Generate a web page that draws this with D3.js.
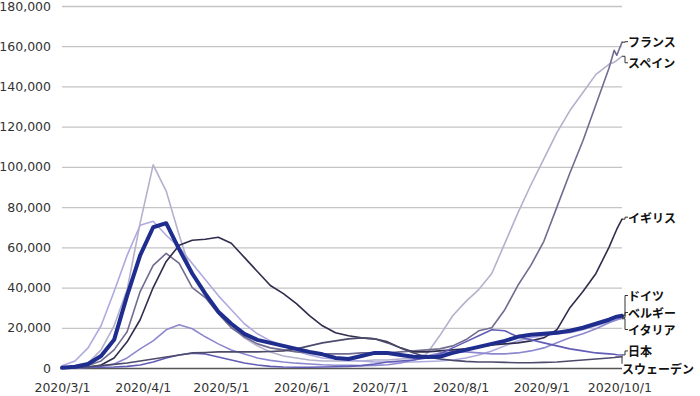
<!DOCTYPE html>
<html><head><meta charset="utf-8">
<script src="https://cdn.jsdelivr.net/npm/d3@7"></script>
<style>body{margin:0;background:#fff}svg{display:block}</style>
</head><body>
<svg id="c" width="700" height="396"></svg>
<script>
const dates = ["2020-03-01","2020-03-06","2020-03-11","2020-03-16","2020-03-21","2020-03-26","2020-03-31","2020-04-05","2020-04-10","2020-04-15","2020-04-20","2020-04-25","2020-04-30","2020-05-05","2020-05-10","2020-05-15","2020-05-20","2020-05-25","2020-05-30","2020-06-04","2020-06-09","2020-06-14","2020-06-19","2020-06-24","2020-06-29","2020-07-04","2020-07-09","2020-07-14","2020-07-19","2020-07-24","2020-07-29","2020-08-03","2020-08-08","2020-08-13","2020-08-18","2020-08-23","2020-08-28","2020-09-02","2020-09-07","2020-09-12","2020-09-17","2020-09-22","2020-09-27","2020-09-29","2020-09-30","2020-10-02"];
const france  = [100,300,1200,3500,9000,18000,38000,51000,57000,52000,40000,35000,27000,20000,15500,12000,10000,9000,8000,7500,7000,7000,7000,7500,7500,7500,8000,8500,9000,9500,11000,14000,18500,20000,29000,41000,51000,63000,80000,97000,113000,131000,149000,158000,155500,162000];
const spain   = [100,400,2500,9000,21000,39000,72000,101000,88000,66000,46000,37000,28000,21000,15000,11000,8000,6000,5000,4000,3500,3500,3500,3500,4000,4000,4500,5000,7000,16000,26000,33000,39000,47000,62000,77000,91000,104000,117000,128000,137000,146000,151000,152000,153000,155000];
const uk      = [0,50,300,1500,5000,13000,24000,40000,53000,61000,63500,64000,65000,62000,55000,48000,41000,37000,32000,26000,21000,17500,16000,15000,14500,13000,10000,8000,8000,8500,9000,9500,10500,11500,12000,12500,13500,15000,19000,30000,38000,47000,60000,66000,69000,74000];
const germany = [100,600,2000,6000,14000,36000,56000,70000,72000,59000,47000,37000,28000,22000,17000,14000,12500,11000,9500,8000,6800,5000,4500,6000,7500,7500,6500,5600,5500,5600,7500,9000,10500,12000,13500,15500,16500,17000,17500,18500,20000,22000,24000,25000,25500,26000];
const belgium = [0,50,300,900,2000,5000,9500,13500,19000,21500,19500,15500,12000,9000,7000,5000,3800,3000,2400,2000,1600,1400,1300,1200,1300,1600,2500,4000,6000,7500,8000,8000,7500,7000,7000,7500,8500,10000,12500,15000,17000,19500,22500,23500,24000,25000];
const italy   = [1100,3500,10000,21000,38000,56000,71000,73000,66000,60000,52000,44000,36000,29000,22000,17000,13500,11000,8500,6500,5000,4500,4000,3500,3000,3000,3000,3000,3200,3500,4000,5000,6500,8500,11000,13500,15000,16000,17000,17500,19000,21000,23000,23500,24000,24500];
const japan   = [200,300,400,400,500,800,1500,3000,5000,6500,7400,7000,5500,4000,2500,1500,800,500,400,400,500,600,800,1200,2000,3000,3500,4000,5000,7000,10000,13000,16000,19000,18500,15500,14000,12500,11000,9500,8500,7500,7000,6800,6600,6500];
const sweden  = [0,100,600,1200,1800,2500,3500,4500,5500,6500,7500,7700,8000,8000,8000,8000,8200,8500,9500,11000,12500,13500,14500,15000,14500,12500,10000,7500,5500,4500,3800,3300,3000,3000,2800,2600,2600,2800,3000,3500,4000,4500,5000,5200,5400,5600];
const seriesNames = ["フランス","スペイン","イギリス","ドイツ","ベルギー","イタリア","日本","スウェーデン"];
const yTicks = [0,20000,40000,60000,80000,100000,120000,140000,160000,180000];
const xTickLabels = ["2020-03-01","2020-04-01","2020-05-01","2020-06-01","2020-07-01","2020-08-01","2020-09-01","2020-10-01"];

const seriesValues = [france, spain, uk, germany, belgium, italy, japan, sweden];
const colors = ["#6f6c8f","#b3b1cb","#2f2c4c","#1f2d8f","#8c88cf","#aeaae0","#615cb6","#4d4b6b"];
const widths = [1.6,1.6,1.6,4,1.6,1.6,1.6,1.6];
const drawOrder = [1,5,0,2,4,6,7,3];
const labelNudge = [-0.5,6.5,-2,-20.2,-5.2,10.8,-4,12];
const labelDx = [0,0,0,0,0,0,0,-6];

const parse = d3.timeParse("%Y-%m-%d");
const dts = dates.map(parse);
const svg = d3.select("#c");
const L = 62, R = 622, T = 6, B = 368;
const x = d3.scaleTime().domain([dts[0], dts[dts.length-1]]).range([L, R]);
const y = d3.scaleLinear().domain([0,180000]).range([B, T]);

const ya = svg.append("g").attr("transform",`translate(${L},0)`)
  .call(d3.axisLeft(y).tickValues(yTicks).tickFormat(d3.format(",")).tickSize(-(R-L)).tickPadding(11));
ya.select(".domain").remove();
ya.selectAll(".tick line").attr("stroke", d => d===0 ? "#555" : "#c4c4c4").attr("stroke-width",1.3);
ya.selectAll(".tick text").attr("font-family","'DejaVu Sans', Verdana, sans-serif").attr("font-size","12.5px").attr("fill","#333");

const xa = svg.append("g").attr("transform",`translate(0,${B})`)
  .call(d3.axisBottom(x).tickValues(xTickLabels.map(parse)).tickFormat(d3.timeFormat("%Y/%-m/%-d")).tickSize(0).tickPadding(15));
xa.select(".domain").remove();
xa.selectAll(".tick text").attr("font-family","'DejaVu Sans', Verdana, sans-serif").attr("font-size","12.5px").attr("fill","#333");

const line = d3.line().x((d,i)=>x(dts[i])).y(d=>y(d));
drawOrder.forEach(i => {
  svg.append("path").datum(seriesValues[i])
    .attr("d", line).attr("fill","none")
    .attr("stroke", colors[i]).attr("stroke-width", widths[i])
    .attr("stroke-linejoin","round").attr("stroke-linecap","round");
});

seriesNames.forEach((name,i) => {
  const vals = seriesValues[i];
  const xe = x(dts[dts.length-1]);
  const ye = y(vals[vals.length-1]);
  const yl = ye + labelNudge[i];
  if (i === 7) {
    svg.append("path").attr("d",`M${xe},${ye}V${yl-5}`).attr("fill","none").attr("stroke","#333").attr("stroke-width",1);
  } else {
    svg.append("path").attr("d",`M${xe},${ye}H${xe+3}V${yl}H${xe+6}`).attr("fill","none").attr("stroke","#333").attr("stroke-width",1);
  }
  svg.append("text").attr("x", xe+6+labelDx[i]).attr("y", yl)
    .attr("dominant-baseline","central")
    .attr("font-family","'Noto Sans CJK JP', sans-serif").attr("font-weight","bold").attr("font-size","12px")
    .attr("fill","#111").text(name);
});
</script>
</body></html>
